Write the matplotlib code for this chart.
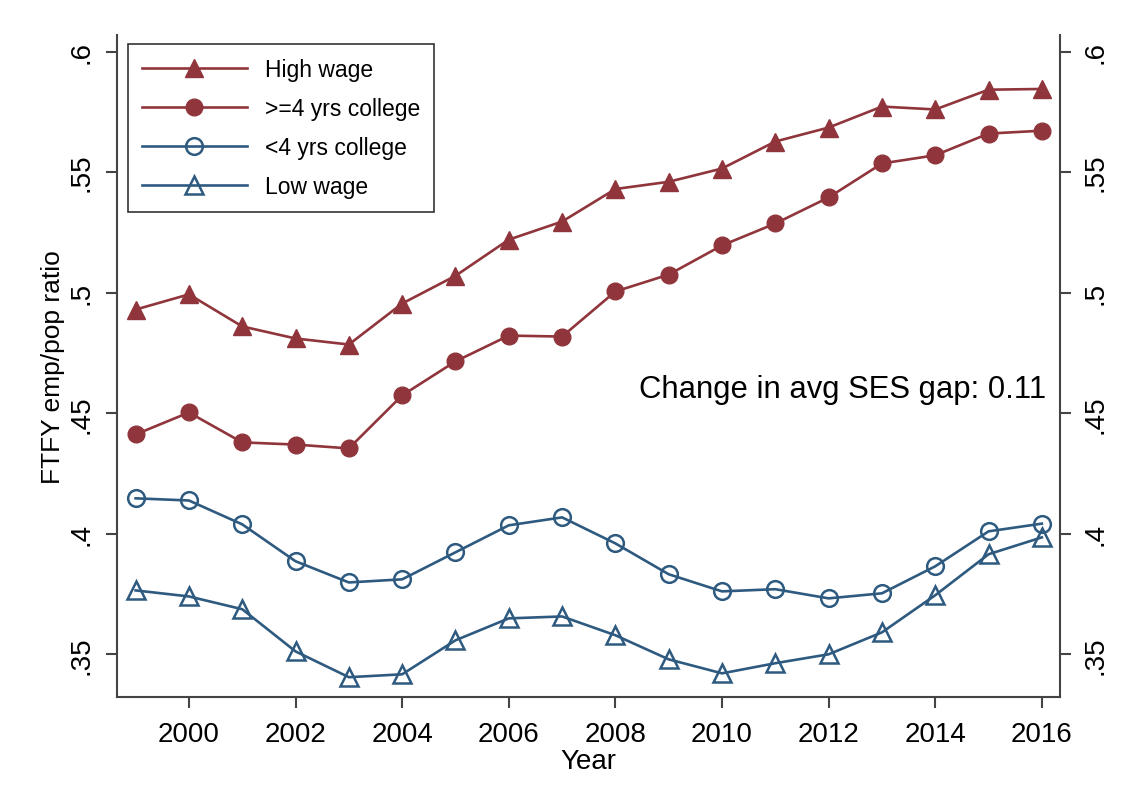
import matplotlib
matplotlib.use("Agg")
import matplotlib.pyplot as plt

years = list(range(1999, 2017))
high_wage = [0.493, 0.4993, 0.486, 0.481, 0.4785, 0.4955, 0.507, 0.522, 0.5295, 0.543,
             0.546, 0.5515, 0.5627, 0.5685, 0.5772, 0.576, 0.5842, 0.5845]
college4 = [0.4412, 0.4503, 0.4379, 0.437, 0.4354, 0.4574, 0.4715, 0.4822, 0.4818, 0.5005,
            0.5075, 0.5196, 0.5287, 0.5395, 0.5536, 0.5570, 0.566, 0.5672]
lt_college4 = [0.4147, 0.4138, 0.4039, 0.3886, 0.3798, 0.3811, 0.3923, 0.4035, 0.4068, 0.396,
               0.3832, 0.3761, 0.377, 0.3732, 0.3753, 0.3865, 0.401, 0.4042]
low_wage = [0.3765, 0.374, 0.3687, 0.3512, 0.3405, 0.3417, 0.3558, 0.3649, 0.3657, 0.3579,
            0.3479, 0.3421, 0.3463, 0.35, 0.3591, 0.3745, 0.3915, 0.3985]
yticks = [0.35, 0.4, 0.45, 0.5, 0.55, 0.6]
ytick_labels = [".35", ".4", ".45", ".5", ".55", ".6"]
xticks = list(range(2000, 2017, 2))

RED = "#90353B"
BLUE = "#2E5A80"

plt.rcParams['font.family'] = ['Liberation Sans', 'DejaVu Sans']

fig = plt.figure(figsize=(11.41, 8.03), dpi=100)
ax = fig.add_axes([0.1025, 0.1308, 0.8265, 0.8244])

lw = 1.9
ax.plot(years, high_wage, color=RED, lw=lw, marker='^', ms=12.5, mfc=RED, mec=RED, label="High wage")
ax.plot(years, college4, color=RED, lw=lw, marker='o', ms=12, mfc=RED, mec=RED, label=">=4 yrs college")
ax.plot(years, lt_college4, color=BLUE, lw=lw, marker='o', ms=12, mfc='none', mec=BLUE, mew=1.8, label="<4 yrs college")
ax.plot(years, low_wage, color=BLUE, lw=lw, marker='^', ms=12.5, mfc='none', mec=BLUE, mew=1.8, label="Low wage")

ax.set_xlim(1998.65, 2016.34)
ax.set_ylim(0.3323, 0.6069)

ax.spines['top'].set_visible(False)
for s in ['left', 'right', 'bottom']:
    ax.spines[s].set_color('#444444')
    ax.spines[s].set_linewidth(1.5)

ax.set_xticks(xticks)
ax.set_xticklabels([str(x) for x in xticks], fontsize=20)
ax.set_yticks(yticks)
ax.set_yticklabels(ytick_labels, fontsize=20)
ax.tick_params(axis='both', direction='out', length=8, width=1.5, color='#444444')
ax.tick_params(axis='x', pad=9)
ax.tick_params(axis='y', pad=8, right=True, labelright=True)
for t in ax.yaxis.get_major_ticks():
    t.label1.set_rotation(90); t.label1.set_va('center')
    t.label2.set_rotation(90); t.label2.set_va('center')

ax.set_xlabel("Year", fontsize=20, labelpad=1)
ax.set_ylabel("FTFY emp/pop ratio", fontsize=19, labelpad=3)

ax.text(2016.08, 0.46, "Change in avg SES gap: 0.11", fontsize=22.3, ha='right', va='center')

leg = ax.legend(loc='upper left', bbox_to_anchor=(0.0117, 0.986), fontsize=16.5,
                frameon=True, fancybox=False, edgecolor='black', handlelength=4.6,
                handletextpad=0.8, borderpad=0.6, labelspacing=0.7, borderaxespad=0)
leg.get_frame().set_linewidth(1.2)

fig.savefig("out.png", dpi=100, facecolor='white')
